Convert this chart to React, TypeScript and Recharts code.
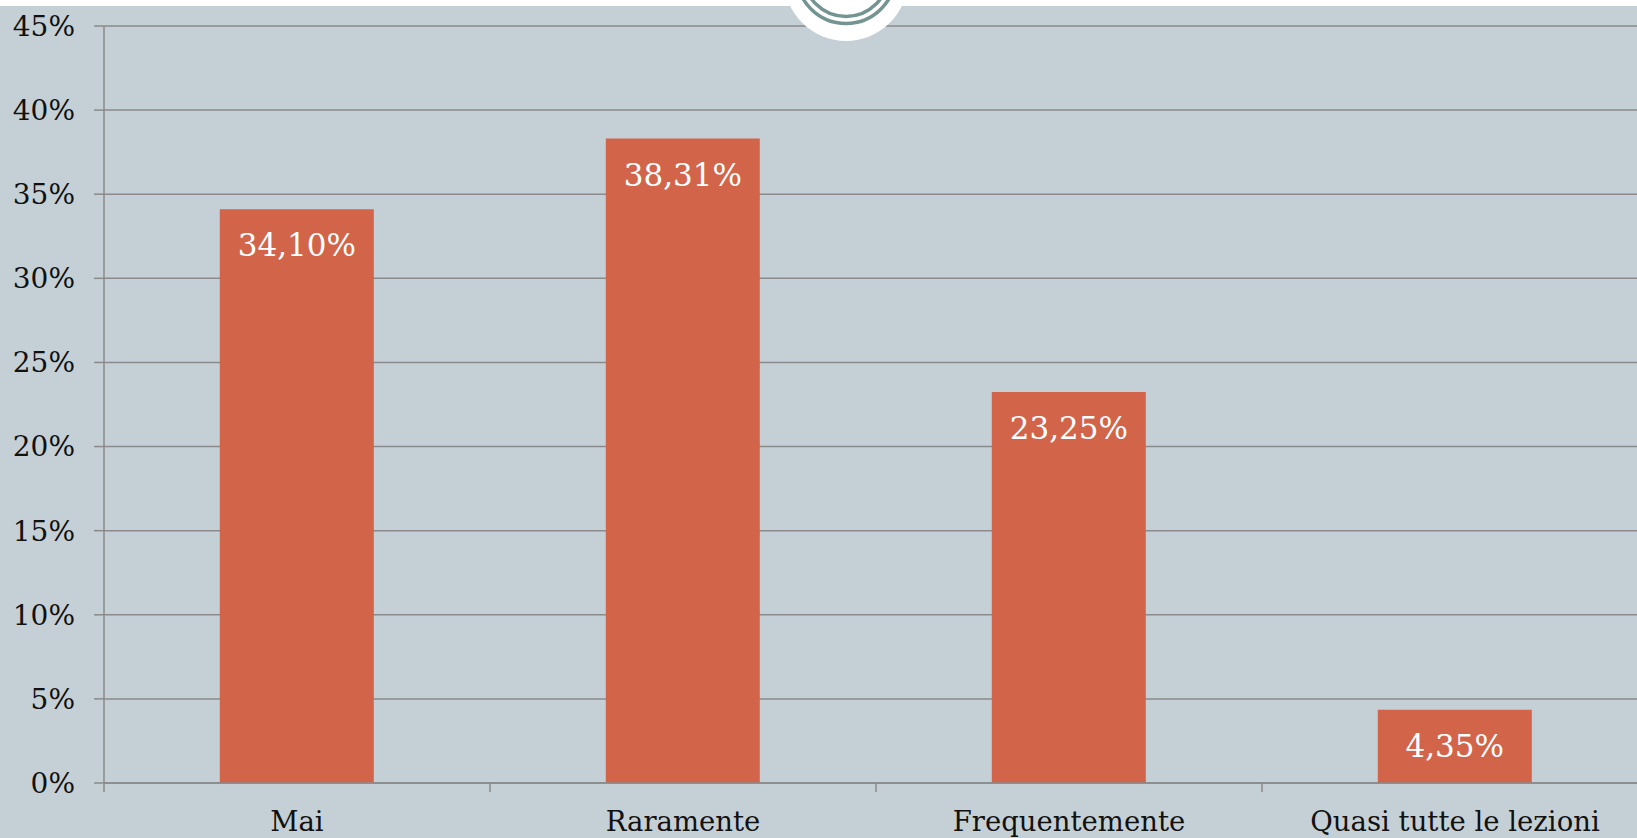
import React from 'react';
import { BarChart, Bar, XAxis, YAxis, CartesianGrid, LabelList } from 'recharts';

const categories = ['Mai', 'Raramente', 'Frequentemente', 'Quasi tutte le lezioni'];
const percentages = [34.1, 38.31, 23.25, 4.35];
const yTicks = [0, 5, 10, 15, 20, 25, 30, 35, 40, 45];

const data = categories.map((name, i) => ({ name, value: percentages[i] }));

const FONT = '"DejaVu Serif", Georgia, serif';
const GRID = '#8a8a8a';
const BAR = '#d2644a';
const BG = '#c5d0d6';
const TICK_SIZE = 9;
const TICK_MARGIN = 19;

const formatPct = (v: number) => `${v.toFixed(2).replace('.', ',')}%`;

// category label + a tick line at the left edge of each band
function CategoryTick(props: any) {
  const { x, y, payload } = props;
  const half = payload?.offset ?? 193;
  const axisY = y - TICK_SIZE - TICK_MARGIN;
  return (
    <g>
      <line
        x1={x - half}
        x2={x - half}
        y1={axisY}
        y2={axisY + TICK_SIZE}
        stroke={GRID}
        strokeWidth={1.5}
      />
      <text
        x={x}
        y={y}
        dy="0.71em"
        textAnchor="middle"
        fill="#111"
        fontSize={27.5}
        fontFamily={FONT}
      >
        {payload.value}
      </text>
    </g>
  );
}

function BarValue(props: any) {
  const { x, y, width, value } = props;
  return (
    <text
      x={x + width / 2}
      y={y + 36}
      textAnchor="middle"
      dominantBaseline="central"
      fill="#fff"
      fontSize={31}
      fontFamily={FONT}
    >
      {formatPct(value)}
    </text>
  );
}

// decorative rings at the top of the slide
function TopBadge() {
  return (
    <svg
      width={200}
      height={60}
      style={{ position: 'absolute', left: 746, top: 0 }}
    >
      <circle cx={100} cy={-21} r={62} fill="#fff" />
      <circle cx={100} cy={-26} r={49.5} fill="none" stroke="#739491" strokeWidth={3.5} />
      <circle cx={100} cy={-26} r={42.5} fill="none" stroke="#739491" strokeWidth={3.5} />
    </svg>
  );
}

export default function App() {
  return (
    <div
      style={{
        position: 'fixed',
        left: 0,
        top: 0,
        width: 1637,
        height: 838,
        overflow: 'hidden',
        background: '#fff',
      }}
    >
      <div
        style={{
          position: 'absolute',
          left: 0,
          top: 6,
          right: 0,
          bottom: 0,
          background: BG,
        }}
      />
      <div style={{ position: 'absolute', left: 0, top: 0 }}>
        <BarChart
          width={1662}
          height={838}
          data={data}
          margin={{ top: 26, right: 14, left: 0, bottom: 0 }}
          barCategoryGap="30%"
        >
          <CartesianGrid vertical={false} stroke={GRID} strokeWidth={1.5} />
          <XAxis
            dataKey="name"
            height={55}
            interval={0}
            axisLine={{ stroke: GRID, strokeWidth: 1.5 }}
            tickLine={{ stroke: 'none' }}
            tickSize={TICK_SIZE}
            tickMargin={TICK_MARGIN}
            tick={<CategoryTick />}
          />
          <YAxis
            width={104}
            domain={[0, 45]}
            ticks={yTicks}
            interval={0}
            tickFormatter={(v) => `${v}%`}
            axisLine={{ stroke: GRID, strokeWidth: 1.5 }}
            tickLine={{ stroke: GRID, strokeWidth: 1.5 }}
            tickSize={10}
            tickMargin={19}
            tick={{ fill: '#111', fontSize: 28, fontFamily: FONT }}
          />
          <Bar dataKey="value" fill={BAR} isAnimationActive={false}>
            <LabelList dataKey="value" content={<BarValue />} />
          </Bar>
        </BarChart>
      </div>
      <TopBadge />
    </div>
  );
}
